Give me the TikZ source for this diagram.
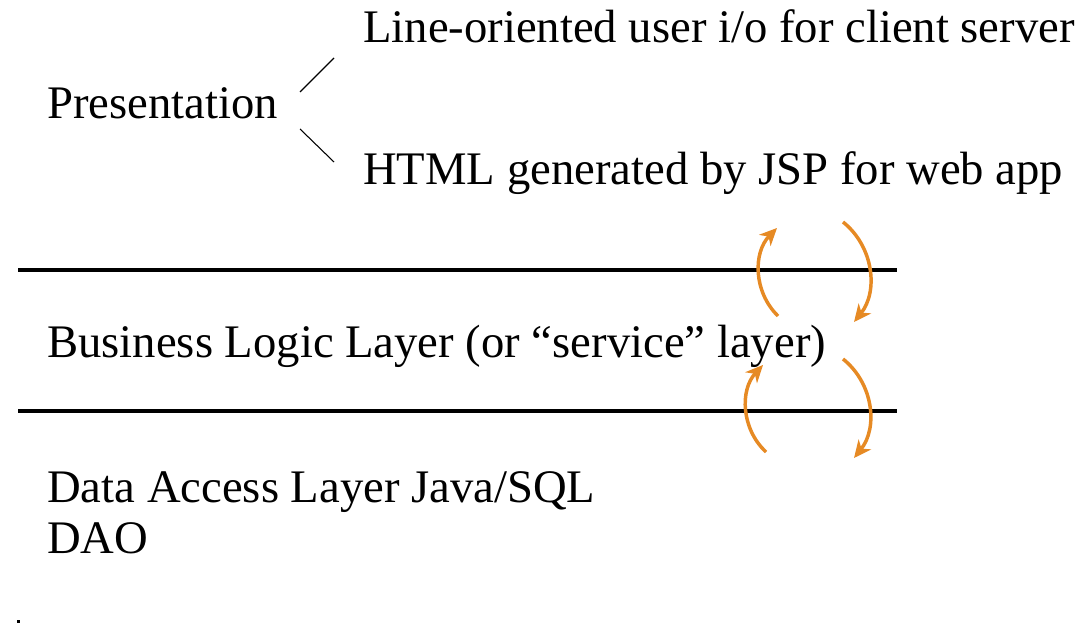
\documentclass[tikz,border=0pt]{standalone}
\usepackage{fontspec}
\setmainfont{Liberation Serif}
\usepackage{xcolor}
\usepackage{tikz}
\usetikzlibrary{arrows.meta, positioning}
\definecolor{flowOrange}{RGB}{230, 138, 36}
\definecolor{layerBlack}{RGB}{0, 0, 0}

\begin{document}
\begin{tikzpicture}[
    x=0.75pt, y=-0.75pt,
    label/.style={anchor=base west, inner sep=0pt, font=\fontsize{35}{40}\selectfont},
    divider/.style={line width=2.6pt, layerBlack},
    branch/.style={line width=0.8pt, layerBlack},
    flow/.style={-{Stealth[length=13pt, width=12pt, inset=4pt]}, line width=2.6pt, flowOrange, bend left=45}
]
    \useasboundingbox (0,0) rectangle (1084,623);

    % Presentation layer
    \node[label] (presentation) at (47,119) {Presentation};
    \node[label] (lineio) at (363,43) {Line-oriented user i/o for client server};
    \node[label] (htmljsp) at (363,185) {HTML generated by JSP for web app};

    % Branches
    \coordinate (upA) at (300,92);
    \coordinate (upB) at (334,58);
    \coordinate (dnA) at (300,129);
    \coordinate (dnB) at (334,162);
    \draw[branch] (upA) -- (upB);
    \draw[branch] (dnA) -- (dnB);

    % Dividers
    \coordinate (divTopL) at (18,270);
    \coordinate (divTopR) at (897,270);
    \coordinate (divBotL) at (18,411);
    \coordinate (divBotR) at (897,411);
    \draw[divider] (divTopL) -- (divTopR);
    \draw[divider] (divBotL) -- (divBotR);

    % Business and data layers
    \node[label] (business) at (47,358) {Business Logic Layer (or “service” layer)};
    \node[label] (dataaccess) at (47,502) {Data Access Layer Java/SQL};
    \node[label] (dao) at (47,553) {DAO};

    % Calls across the dividers
    \coordinate (upperUpS) at (778,316);
    \coordinate (upperUpE) at (777,228);
    \coordinate (upperDnS) at (843,222);
    \coordinate (upperDnE) at (854,322);
    \coordinate (lowerUpS) at (766,452);
    \coordinate (lowerUpE) at (763,365);
    \coordinate (lowerDnS) at (843,359);
    \coordinate (lowerDnE) at (854,458);
    \draw[flow] (upperUpS) to (upperUpE);
    \draw[flow] (upperDnS) to (upperDnE);
    \draw[flow] (lowerUpS) to (lowerUpE);
    \draw[flow] (lowerDnS) to (lowerDnE);

    % Stray mark
    \fill[layerBlack] (17,620) rectangle (20,623);
\end{tikzpicture}
\end{document}
